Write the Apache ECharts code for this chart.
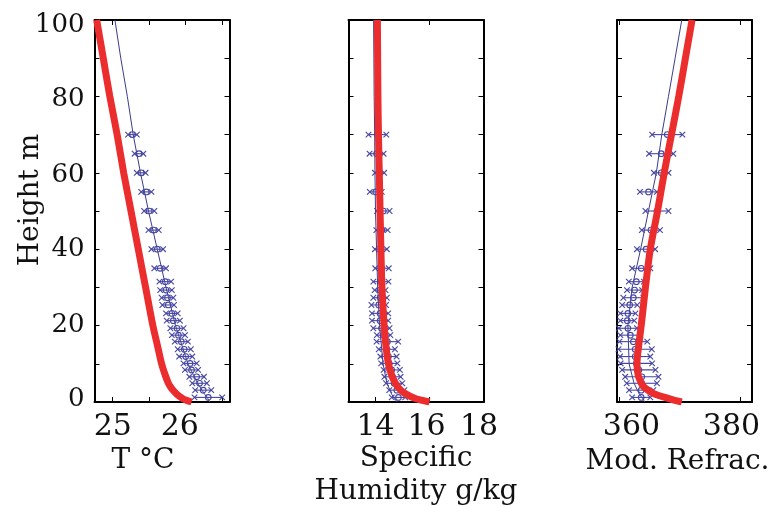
<!DOCTYPE html>
<html>
<head>
<meta charset="utf-8">
<script src="https://cdn.jsdelivr.net/npm/echarts@6/dist/echarts.min.js"></script>
<style>html,body{margin:0;padding:0;background:#fff}#c{width:772px;height:506px}</style>
</head>
<body>
<div id="c"></div>
<script>
// ---- data ----
const obsHeights = [1.2, 3.1, 4.9, 6.6, 8.4, 10.1, 11.9, 13.8, 15.8, 17.5, 19.3, 21.3, 23.2, 25.4, 27.3, 29.3, 31.5, 35, 40, 45, 50, 55, 60, 65, 70];
const tempObs = [26.31, 26.24, 26.19, 26.15, 26.08, 26.06, 26.00, 25.98, 25.94, 25.90, 25.88, 25.83, 25.81, 25.76, 25.75, 25.73, 25.72, 25.65, 25.61, 25.56, 25.50, 25.46, 25.39, 25.36, 25.27];
const tempErr = [0.19, 0.11, 0.10, 0.10, 0.09, 0.09, 0.09, 0.09, 0.09, 0.09, 0.09, 0.09, 0.08, 0.08, 0.08, 0.08, 0.08, 0.08, 0.08, 0.07, 0.07, 0.07, 0.06, 0.06, 0.06];
const humObs = [14.85, 14.79, 14.69, 14.63, 14.60, 14.51, 14.48, 14.42, 14.44, 14.30, 14.22, 14.17, 14.17, 14.12, 14.17, 14.17, 14.20, 14.24, 14.20, 14.24, 14.29, 14.01, 14.15, 14.04, 14.07];
const humErr = [0.25, 0.28, 0.3, 0.3, 0.3, 0.3, 0.3, 0.3, 0.4, 0.25, 0.3, 0.3, 0.3, 0.27, 0.25, 0.2, 0.28, 0.25, 0.22, 0.21, 0.23, 0.22, 0.17, 0.26, 0.33];
const refObs = [363.6, 363.6, 363.7, 363.7, 363.2, 362.8, 362.6, 362.6, 362.3, 361.8, 361.4, 361.3, 361.4, 361.7, 362.3, 362.5, 362.8, 363.6, 364.4, 365.2, 366.2, 364.8, 366.9, 366.9, 367.9];
const refErr = [1.5, 2.0, 2.5, 2.75, 2.75, 2.6, 2.5, 2.75, 2.3, 1.65, 1.5, 1.15, 1.25, 1.25, 1.65, 1.25, 1.25, 1.5, 1.5, 1.5, 1.9, 1.4, 1.2, 2.0, 2.5];

const fitHeights = [0, 1, 2, 5, 10, 20, 30, 40, 50, 60, 70, 80, 90, 100];
const tempFit = [26.33, 26.30, 26.26, 26.16, 26.03, 25.86, 25.73, 25.61, 25.49, 25.38, 25.28, 25.20, 25.11, 25.03];
const humFit = [14.80, 14.70, 14.60, 14.42, 14.28, 14.15, 14.08, 14.04, 14.00, 13.98, 13.97, 13.95, 13.94, 13.93];
const refFit = [364.2, 363.8, 363.3, 362.4, 361.6, 361.4, 362.1, 363.5, 364.8, 366.1, 367.0, 368.1, 369.2, 370.3];

const modelHeights = [0, 0.5, 1, 2, 3, 4, 5, 7, 10, 15, 20, 30, 40, 50, 60, 70, 80, 90, 100];
const tempModel = [26.08, 26.00, 25.95, 25.88, 25.83, 25.79, 25.76, 25.72, 25.67, 25.61, 25.55, 25.45, 25.35, 25.25, 25.15, 25.06, 24.96, 24.87, 24.78];
const humModel = [16.0, 15.7, 15.45, 15.15, 14.95, 14.82, 14.73, 14.60, 14.48, 14.38, 14.32, 14.24, 14.20, 14.17, 14.14, 14.11, 14.09, 14.08, 14.07];
const refModel = [370.3, 369.0, 367.9, 365.9, 364.8, 364.0, 363.6, 363.1, 362.9, 363.2, 363.6, 364.3, 365.1, 366.3, 367.4, 368.6, 369.8, 370.9, 372.0];

const tempTicks = [25, 25.5, 26, 26.5];
const tempLabels = [25, 26];
const humTicks = [14, 16, 18];
const refTicks = [360, 380];
const heightTicks = [0, 10, 20, 30, 40, 50, 60, 70, 80, 90, 100];
const heightLabels = [0, 20, 40, 60, 80, 100];

// ---- chart ----
const FONT = 'DejaVu Serif';
const BLUE = '#4646a2';
const pairs = (xs, hs) => hs.map((h, i) => [xs[i], h]);
const errData = (c, e) => obsHeights.map((h, i) => [c[i] - e[i], c[i] + e[i], h, c[i]]);

const panels = [
  {left: 94.5, min: 24.75, max: 26.6, ticks: tempTicks, labels: tempLabels, name: 'T °C',
   shift: {26: 12}, namePad: [0, 38, 0, 0], nameGap: 42,
   obs: errData(tempObs, tempErr), fit: pairs(tempFit, fitHeights), model: pairs(tempModel, modelHeights)},
  {left: 348.5, min: 13, max: 18, ticks: humTicks, labels: humTicks, name: 'Specific\nHumidity g/kg',
   shift: {16: 6, 18: 9}, namePad: [0, 0, 0, 0], nameGap: 40,
   obs: errData(humObs, humErr), fit: pairs(humFit, fitHeights), model: pairs(humModel, modelHeights)},
  {left: 617, min: 359.6, max: 381.9, ticks: refTicks, labels: refTicks, name: 'Mod. Refrac.',
   shift: {360: -24, 380: 18}, namePad: [0, 14, 0, 0], nameGap: 43,
   obs: errData(refObs, refErr), fit: pairs(refFit, fitHeights), model: pairs(refModel, modelHeights)}
];

// vertical nudges of the height labels (positive = down)
const yShift = {100: 5, 80: 3, 60: 2, 0: -3};
const yRich = {};
Object.keys(yShift).forEach(v => {
  const s = yShift[v];
  yRich['y' + v] = {fontFamily: FONT, fontSize: 26, color: '#111',
    padding: s > 0 ? [2 * s, 0, 0, 0] : [0, 0, -2 * s, 0]};
});

const grid = [], xAxis = [], yAxis = [], series = [];
const lineStyle = {color: '#000', width: 2};
const tickStyle = {show: true, inside: true, length: 5, lineStyle: {color: '#000', width: 1}};

panels.forEach((p, k) => {
  grid.push({left: p.left, top: 20, width: 135, height: 382, outerBoundsMode: 'none', containLabel: false});
  const rich = {};
  Object.keys(p.shift).forEach(v => {
    const s = p.shift[v];
    rich['s' + v] = {fontFamily: FONT, fontSize: 30, color: '#111',
      padding: s > 0 ? [0, s, 0, 0] : [0, 0, 0, -s]};
  });
  xAxis.push({
    type: 'value', gridIndex: k, position: 'bottom', min: p.min, max: p.max,
    axisLine: {show: true, onZero: false, lineStyle},
    axisTick: Object.assign({customValues: p.ticks}, tickStyle),
    axisLabel: {customValues: p.labels, fontFamily: FONT, fontSize: 30, color: '#111', margin: 10,
      formatter: v => p.shift[v] !== undefined ? '{s' + v + '|' + v + '}' : String(v), rich},
    splitLine: {show: false},
    name: p.name, nameLocation: 'middle', nameGap: p.nameGap, nameMoveOverlap: false,
    nameTextStyle: {fontFamily: FONT, fontSize: 28, color: '#111', lineHeight: 33, padding: p.namePad}
  });
  xAxis.push({
    type: 'value', gridIndex: k, position: 'top', min: p.min, max: p.max,
    axisLine: {show: true, onZero: false, lineStyle},
    axisTick: Object.assign({customValues: p.ticks}, tickStyle),
    axisLabel: {show: false}, splitLine: {show: false}
  });
  yAxis.push({
    type: 'value', gridIndex: k, position: 'left', min: 0, max: 100,
    axisLine: {show: true, onZero: false, lineStyle},
    axisTick: Object.assign({customValues: heightTicks}, tickStyle),
    axisLabel: k === 0 ? {customValues: heightLabels, fontFamily: FONT, fontSize: 26, color: '#111', margin: 10,
      formatter: v => yShift[v] !== undefined ? '{y' + v + '|' + v + '}' : String(v), rich: yRich} : {show: false},
    splitLine: {show: false},
    name: k === 0 ? 'Height m' : '', nameLocation: 'middle', nameGap: 50, nameMoveOverlap: false,
    nameTextStyle: {fontFamily: FONT, fontSize: 28, color: '#111', padding: [0, 0, 0, 22]}
  });
  yAxis.push({
    type: 'value', gridIndex: k, position: 'right', min: 0, max: 100,
    axisLine: {show: true, onZero: false, lineStyle},
    axisTick: Object.assign({customValues: heightTicks}, tickStyle),
    axisLabel: {show: false}, splitLine: {show: false}
  });

  series.push({
    type: 'line', xAxisIndex: 2 * k, yAxisIndex: 2 * k, data: p.fit, showSymbol: false, silent: true,
    lineStyle: {color: '#3c3c8c', width: 1}, z: 2
  });
  series.push({
    type: 'custom', xAxisIndex: 2 * k, yAxisIndex: 2 * k, data: p.obs, silent: true, z: 3,
    encode: {x: [0, 1, 3], y: 2},
    renderItem: (params, api) => {
      const h = api.value(2);
      const lo = api.coord([api.value(0), h]);
      const hi = api.coord([api.value(1), h]);
      const mid = api.coord([api.value(3), h]);
      const s = 2.8;
      const st = {stroke: BLUE, lineWidth: 1.1, fill: 'none'};
      const cross = c => [
        {type: 'line', shape: {x1: c[0] - s, y1: c[1] - s, x2: c[0] + s, y2: c[1] + s}, style: st},
        {type: 'line', shape: {x1: c[0] - s, y1: c[1] + s, x2: c[0] + s, y2: c[1] - s}, style: st}
      ];
      return {type: 'group', children: [
        {type: 'line', shape: {x1: lo[0], y1: lo[1], x2: hi[0], y2: hi[1]}, style: st},
        ...cross(lo), ...cross(hi),
        {type: 'circle', shape: {cx: mid[0], cy: mid[1], r: 2.8}, style: st}
      ]};
    }
  });
  series.push({
    type: 'line', xAxisIndex: 2 * k, yAxisIndex: 2 * k, data: p.model, showSymbol: false, silent: true,
    smooth: 0.3, lineStyle: {color: '#ec2d2d', width: 7}, z: 4
  });
});

const chart = echarts.init(document.getElementById('c'), null, {renderer: 'canvas'});
chart.setOption({backgroundColor: '#fff', animation: false, grid, xAxis, yAxis, series});
</script>
</body>
</html>
